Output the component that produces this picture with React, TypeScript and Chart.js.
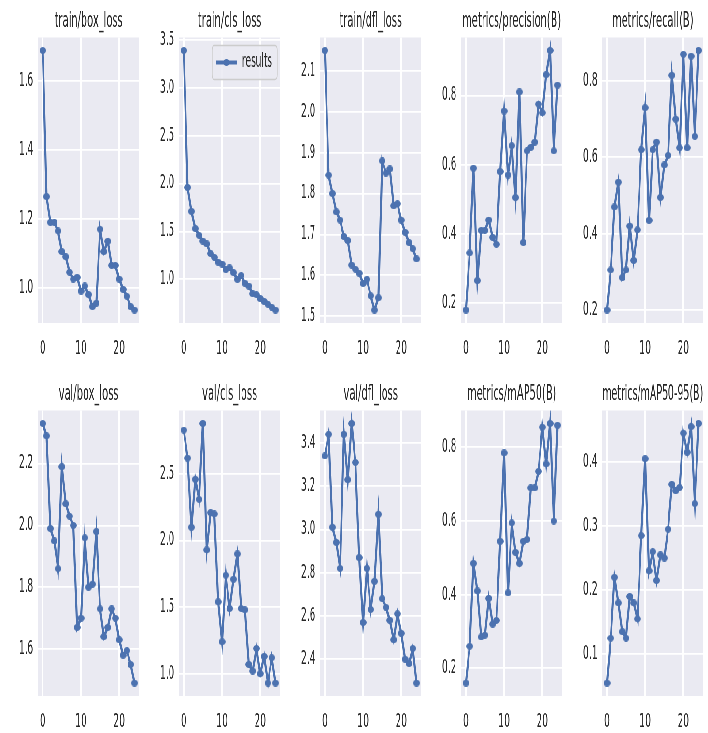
import React, { useEffect, useRef } from 'react';
import { Chart, registerables } from 'chart.js';

Chart.register(...registerables);

// ---------- data ----------
const epochs = [0, 1, 2, 3, 4, 5, 6, 7, 8, 9, 10, 11, 12, 13, 14, 15, 16, 17, 18, 19, 20, 21, 22, 23, 24];
const xTickValues = [0, 10, 20];
const legendLabel = 'results';

const trainBoxLoss = [1.69, 1.265, 1.19, 1.19, 1.165, 1.105, 1.09, 1.045, 1.025, 1.03, 0.99, 1.005, 0.98, 0.945, 0.955, 1.17, 1.105, 1.135, 1.065, 1.065, 1.025, 0.995, 0.975, 0.945, 0.935];
const trainClsLoss = [3.39, 1.96, 1.71, 1.53, 1.46, 1.4, 1.37, 1.27, 1.23, 1.18, 1.16, 1.1, 1.12, 1.07, 1.0, 1.04, 0.96, 0.93, 0.85, 0.84, 0.8, 0.77, 0.74, 0.71, 0.68];
const trainDflLoss = [2.15, 1.845, 1.8, 1.755, 1.735, 1.695, 1.685, 1.625, 1.615, 1.605, 1.58, 1.59, 1.55, 1.515, 1.545, 1.88, 1.85, 1.86, 1.77, 1.775, 1.735, 1.705, 1.68, 1.665, 1.64];
const precisionB = [0.18, 0.345, 0.59, 0.265, 0.41, 0.41, 0.44, 0.39, 0.37, 0.58, 0.755, 0.57, 0.655, 0.505, 0.81, 0.375, 0.64, 0.65, 0.665, 0.775, 0.75, 0.86, 0.93, 0.64, 0.83];
const recallB = [0.2, 0.305, 0.47, 0.535, 0.285, 0.305, 0.42, 0.33, 0.41, 0.62, 0.73, 0.435, 0.62, 0.64, 0.495, 0.58, 0.605, 0.815, 0.7, 0.625, 0.87, 0.625, 0.865, 0.655, 0.88];
const valBoxLoss = [2.33, 2.29, 1.99, 1.95, 1.86, 2.19, 2.07, 2.03, 2.0, 1.67, 1.7, 1.96, 1.8, 1.81, 1.98, 1.73, 1.64, 1.67, 1.73, 1.7, 1.63, 1.58, 1.595, 1.55, 1.49];
const valClsLoss = [2.83, 2.62, 2.1, 2.46, 2.31, 2.88, 1.93, 2.21, 2.2, 1.54, 1.24, 1.74, 1.49, 1.71, 1.9, 1.49, 1.48, 1.07, 1.02, 1.19, 1.0, 1.13, 0.93, 1.12, 0.93];
const valDflLoss = [3.34, 3.44, 3.01, 2.94, 2.82, 3.44, 3.23, 3.49, 3.31, 2.87, 2.57, 2.82, 2.63, 2.76, 3.07, 2.68, 2.64, 2.58, 2.49, 2.61, 2.52, 2.4, 2.38, 2.45, 2.29];
const mAP50B = [0.16, 0.26, 0.485, 0.41, 0.285, 0.29, 0.39, 0.32, 0.33, 0.545, 0.785, 0.405, 0.595, 0.515, 0.485, 0.545, 0.55, 0.69, 0.69, 0.735, 0.855, 0.755, 0.865, 0.6, 0.86];
const mAP5095B = [0.055, 0.125, 0.22, 0.18, 0.135, 0.125, 0.19, 0.18, 0.155, 0.285, 0.405, 0.23, 0.26, 0.215, 0.255, 0.25, 0.295, 0.365, 0.355, 0.36, 0.445, 0.415, 0.455, 0.335, 0.46];

const yTicksTrainBox = [1.0, 1.2, 1.4, 1.6];
const yTicksTrainCls = [1.0, 1.5, 2.0, 2.5, 3.0, 3.5];
const yTicksTrainDfl = [1.5, 1.6, 1.7, 1.8, 1.9, 2.0, 2.1];
const yTicksPrecision = [0.2, 0.4, 0.6, 0.8];
const yTicksRecall = [0.2, 0.4, 0.6, 0.8];
const yTicksValBox = [1.6, 1.8, 2.0, 2.2];
const yTicksValCls = [1.0, 1.5, 2.0, 2.5];
const yTicksValDfl = [2.4, 2.6, 2.8, 3.0, 3.2, 3.4];
const yTicksMAP50 = [0.2, 0.4, 0.6, 0.8];
const yTicksMAP5095 = [0.1, 0.2, 0.3, 0.4];

const panels = [
  { title: 'train/box_loss', values: trainBoxLoss, yTicks: yTicksTrainBox, legend: false },
  { title: 'train/cls_loss', values: trainClsLoss, yTicks: yTicksTrainCls, legend: true },
  { title: 'train/dfl_loss', values: trainDflLoss, yTicks: yTicksTrainDfl, legend: false },
  { title: 'metrics/precision(B)', values: precisionB, yTicks: yTicksPrecision, legend: false },
  { title: 'metrics/recall(B)', values: recallB, yTicks: yTicksRecall, legend: false },
  { title: 'val/box_loss', values: valBoxLoss, yTicks: yTicksValBox, legend: false },
  { title: 'val/cls_loss', values: valClsLoss, yTicks: yTicksValCls, legend: false },
  { title: 'val/dfl_loss', values: valDflLoss, yTicks: yTicksValDfl, legend: false },
  { title: 'metrics/mAP50(B)', values: mAP50B, yTicks: yTicksMAP50, legend: false },
  { title: 'metrics/mAP50-95(B)', values: mAP5095B, yTicks: yTicksMAP5095, legend: false },
];

// ---------- style / layout ----------
const BLUE = '#4C72B0';
const TEXT = '#262626';
const BG = '#EAEAF2';
const FONT = '"DejaVu Sans", sans-serif';
const SX = 0.483; // horizontal squeeze of the whole figure
const PITCH = 292; // virtual px between panels
const CW = 292;
const ROW_TOP = [0, 373];
const ROW_H = [373, 360];
const XAXIS_H = [50, 37];
const YAXIS_W = 79;
const TICK_SIZE = 18.7;
const LINE_W = 4.2;
const MARK_W = 14; // virtual (squeezed to ~6.8px)
const MARK_H = 7;

let markerCanvas: HTMLCanvasElement | null = null;
function getMarker() {
  if (markerCanvas) return markerCanvas;
  const c = document.createElement('canvas');
  c.width = MARK_W;
  c.height = MARK_H;
  const g = c.getContext('2d') as CanvasRenderingContext2D;
  g.fillStyle = BLUE;
  g.beginPath();
  g.ellipse(MARK_W / 2, MARK_H / 2, MARK_W / 2, MARK_H / 2, 0, 0, Math.PI * 2);
  g.fill();
  markerCanvas = c;
  return c;
}

const bgPlugin = {
  id: 'axesBg',
  beforeDraw(chart: any) {
    const { ctx, chartArea: a } = chart;
    ctx.save();
    ctx.fillStyle = BG;
    ctx.fillRect(a.left, a.top, a.right - a.left, a.bottom - a.top);
    ctx.restore();
  },
};

const legendPlugin = {
  id: 'innerLegend',
  afterDatasetsDraw(chart: any) {
    const { ctx, chartArea: a } = chart;
    const w = 135;
    const h = 34;
    const x = a.right - 6 - w;
    const y = a.top + 8;
    const r = 5;
    ctx.save();
    ctx.beginPath();
    ctx.moveTo(x + r, y);
    ctx.lineTo(x + w - r, y);
    ctx.quadraticCurveTo(x + w, y, x + w, y + r);
    ctx.lineTo(x + w, y + h - r);
    ctx.quadraticCurveTo(x + w, y + h, x + w - r, y + h);
    ctx.lineTo(x + r, y + h);
    ctx.quadraticCurveTo(x, y + h, x, y + h - r);
    ctx.lineTo(x, y + r);
    ctx.quadraticCurveTo(x, y, x + r, y);
    ctx.closePath();
    ctx.fillStyle = 'rgba(234,234,242,0.85)';
    ctx.fill();
    ctx.strokeStyle = '#cccccc';
    ctx.lineWidth = 1.4;
    ctx.stroke();
    const cy = y + h / 2;
    ctx.strokeStyle = BLUE;
    ctx.lineWidth = LINE_W;
    ctx.beginPath();
    ctx.moveTo(x + 9, cy);
    ctx.lineTo(x + 51, cy);
    ctx.stroke();
    ctx.drawImage(getMarker(), x + 30 - MARK_W / 2, cy - MARK_H / 2);
    ctx.fillStyle = TEXT;
    ctx.font = `${TICK_SIZE}px ${FONT}`;
    ctx.textBaseline = 'middle';
    ctx.textAlign = 'left';
    ctx.fillText(legendLabel, x + 62, cy);
    ctx.restore();
  },
};

function Panel({ index }: { index: number }) {
  const ref = useRef<HTMLCanvasElement>(null);
  const p = panels[index];
  const row = Math.floor(index / 5);
  useEffect(() => {
    const vals = p.values;
    const lo = Math.min(...vals);
    const hi = Math.max(...vals);
    const m = (hi - lo) * 0.05;
    const chart = new Chart(ref.current as HTMLCanvasElement, {
      type: 'line',
      data: {
        datasets: [
          {
            label: legendLabel,
            data: epochs.map((e, i) => ({ x: e, y: vals[i] })),
            borderColor: BLUE,
            backgroundColor: BLUE,
            borderWidth: LINE_W,
            pointStyle: getMarker(),
            pointRadius: 4,
            pointBorderWidth: 0,
            pointHoverRadius: 4,
            tension: 0,
            fill: false,
          },
        ],
      },
      options: {
        animation: false,
        responsive: false,
        devicePixelRatio: 1,
        events: [],
        layout: { padding: { left: 0, right: CW - PITCH + 4, top: 0, bottom: 0 } },
        plugins: {
          legend: { display: false },
          tooltip: { enabled: false },
          title: {
            display: true,
            text: p.title,
            fullSize: false,
            color: TEXT,
            font: { family: FONT, size: 20.4, weight: 'normal' },
            padding: { top: 9, bottom: 4 },
          },
        },
        scales: {
          x: {
            type: 'linear',
            min: -1.2,
            max: 25.2,
            afterBuildTicks: (s: any) => {
              s.ticks = xTickValues.map((v) => ({ value: v }));
            },
            afterFit: (s: any) => {
              s.height = XAXIS_H[row];
            },
            grid: { color: '#ffffff', lineWidth: 3, drawTicks: false },
            border: { display: false },
            ticks: {
              padding: 15,
              color: TEXT,
              font: { family: FONT, size: TICK_SIZE },
              maxRotation: 0,
              autoSkip: false,
              callback: (v: any) => String(v),
            },
          },
          y: {
            type: 'linear',
            min: lo - m,
            max: hi + m,
            afterBuildTicks: (s: any) => {
              s.ticks = p.yTicks.map((v) => ({ value: v }));
            },
            afterFit: (s: any) => {
              s.width = YAXIS_W;
            },
            grid: { color: '#ffffff', lineWidth: 1.8, drawTicks: false },
            border: { display: false },
            ticks: {
              padding: 10,
              color: TEXT,
              font: { family: FONT, size: TICK_SIZE },
              autoSkip: false,
              callback: (v: any) => Number(v).toFixed(1),
            },
          },
        },
      } as any,
      plugins: p.legend ? [bgPlugin, legendPlugin] : [bgPlugin],
    });
    return () => chart.destroy();
  }, []);
  return (
    <div style={{ position: 'absolute', left: (index % 5) * PITCH, top: ROW_TOP[row] }}>
      <canvas ref={ref} width={CW} height={ROW_H[row]} style={{ display: 'block' }} />
    </div>
  );
}

export default function App() {
  return (
    <div style={{ position: 'absolute', left: 0, top: 0, width: 708, height: 733, overflow: 'hidden', background: '#ffffff' }}>
      <div
        style={{
          position: 'absolute',
          left: 0,
          top: 0,
          width: PITCH * 5,
          height: 733,
          transform: `scaleX(${SX})`,
          transformOrigin: '0 0',
        }}
      >
        {panels.map((_, i) => (
          <Panel key={i} index={i} />
        ))}
      </div>
    </div>
  );
}
